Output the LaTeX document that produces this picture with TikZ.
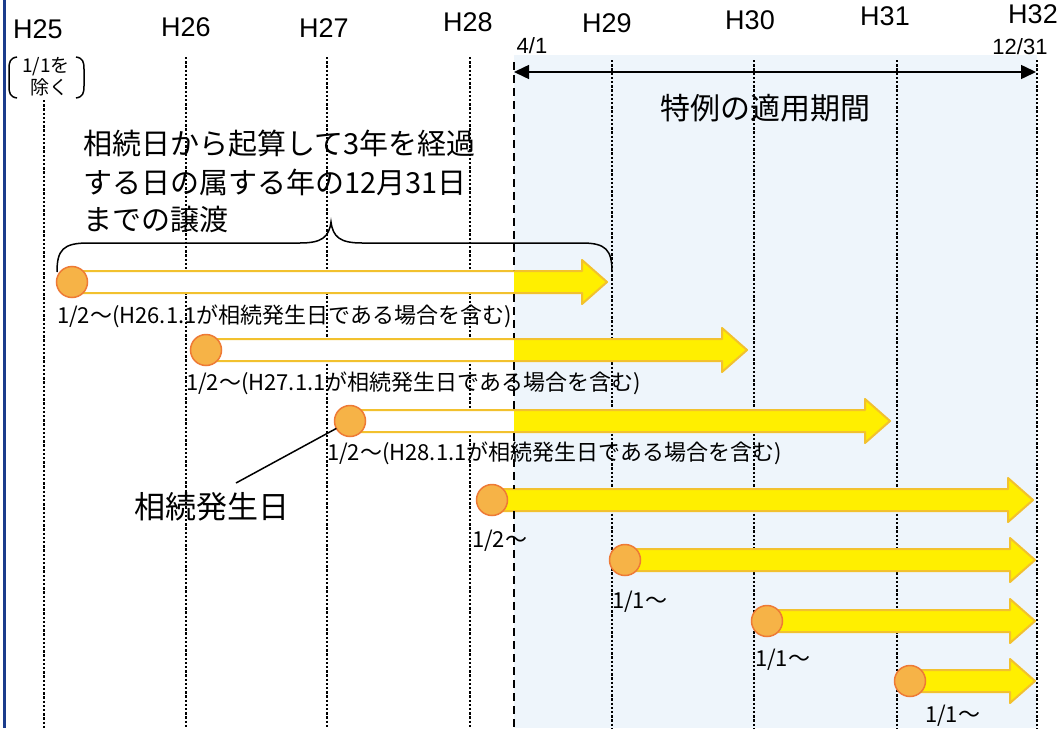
\documentclass[tikz,border=0pt]{standalone}
\usepackage{fontspec}
\setmainfont{Liberation Sans}
\newfontfamily\jp{Noto Sans CJK JP}
\usetikzlibrary{arrows.meta}
\definecolor{yfill}{HTML}{FFEF00}
\definecolor{yline}{HTML}{F2C12E}
\definecolor{cfill}{HTML}{F6B347}
\definecolor{cline}{HTML}{EE7A35}
\definecolor{bluebg}{HTML}{EEF5FB}
\definecolor{navy}{HTML}{1B3C8C}
\newcommand\yarr[4]{%
  \ifnum#4=1
    \fill[white] (#1,{#3-11}) -- ({#2-25},{#3-11}) -- ({#2-25},{#3-22}) -- (#2,#3) -- ({#2-25},{#3+22}) -- ({#2-25},{#3+11}) -- (#1,{#3+11}) -- cycle;
    \begin{scope}
      \clip (514,0) rectangle (1057,728);
      \fill[yfill] (#1,{#3-11}) -- ({#2-25},{#3-11}) -- ({#2-25},{#3-22}) -- (#2,#3) -- ({#2-25},{#3+22}) -- ({#2-25},{#3+11}) -- (#1,{#3+11}) -- cycle;
    \end{scope}
  \else
    \fill[yfill] (#1,{#3-11}) -- ({#2-25},{#3-11}) -- ({#2-25},{#3-22}) -- (#2,#3) -- ({#2-25},{#3+22}) -- ({#2-25},{#3+11}) -- (#1,{#3+11}) -- cycle;
  \fi
  \draw[yline, line width=2pt, line join=round] (#1,{#3-11}) -- ({#2-25},{#3-11}) -- ({#2-25},{#3-22}) -- (#2,#3) -- ({#2-25},{#3+22}) -- ({#2-25},{#3+11}) -- (#1,{#3+11}) -- cycle;
}
\begin{document}
\begin{tikzpicture}[x=1pt,y=-1pt,
  every node/.style={inner sep=0pt, outer sep=0pt},
  yearlab/.style={font=\fontsize{27}{32}\selectfont},
  yearline/.style={line width=2.6pt, dash pattern=on 2.4pt off 1.8pt},
  splitline/.style={line width=2.2pt, dash pattern=on 8pt off 5pt},
  dot/.style={circle, minimum size=31pt, fill=cfill, draw=cline, line width=1.5pt},
  arrlab/.style={anchor=west, font=\jp\fontsize{22}{26}\selectfont},
  bigtxt/.style={anchor=west, font=\jp\fontsize{29}{33}\selectfont},
  smalltxt/.style={font=\jp\fontsize{19}{22}\selectfont},
  datelab/.style={font=\fontsize{22}{26}\selectfont}]
\useasboundingbox (0,0) rectangle (1057,728);
\fill[white] (0,0) rectangle (1057,728);
\fill[bluebg] (514,55) rectangle (1037,728);
\draw[navy, line width=3pt] (4,0) -- (4,728);

% year lines
\foreach \x/\ys in {44/100,186/57,327/57,470/57,612/60,754/60,897/60,1037/60}
  \draw[yearline] (\x,\ys) -- (\x,728);

% year labels
\node[yearlab] (h25) at (38,29) {H25};
\node[yearlab] (h26) at (186,27) {H26};
\node[yearlab] (h27) at (324,28) {H27};
\node[yearlab] (h28) at (468,22) {H28};
\node[yearlab] (h29) at (607,23) {H29};
\node[yearlab] (h30) at (750,20) {H30};
\node[yearlab] (h31) at (885,16) {H31};
\node[yearlab] (h32) at (1033,14) {H32};

% (1/1を除く)
\node[smalltxt] (ex1) at (46,67) {1/1を};
\node[smalltxt] (ex2) at (49,87) {除く};
\draw[line width=1.5pt] (17,57) .. controls (10,58) and (9,62) .. (9,69) -- (9,86) .. controls (9,93) and (10,97) .. (17,98);
\draw[line width=1.5pt] (76,57) .. controls (83,58) and (84,62) .. (84,69) -- (84,86) .. controls (84,93) and (83,97) .. (76,98);

% period arrow
\node[datelab] (d41) at (532,46) {4/1};
\node[datelab] (d1231) at (1020,47) {12/31};
\coordinate (ps) at (514,72);
\coordinate (pe) at (1036,72);
\draw[line width=1.5pt, {Triangle[length=15pt,width=14pt]}-{Triangle[length=15pt,width=14pt]}] (ps) -- (pe);
\node[font=\jp\fontsize{30}{34}\selectfont] (period) at (765,108) {特例の適用期間};

% explanatory text
\node[bigtxt] (t1) at (83,144) {相続日から起算して3年を経過};
\node[bigtxt] (t2) at (83,182) {する日の属する年の12月31日};
\node[bigtxt] (t3) at (83,219) {までの譲渡};

% brace
\draw[line width=1.5pt] (57,272) .. controls (57,250) and (63,243) .. (88,243) -- (300,243)
  .. controls (322,243) and (329,237) .. (331,222)
  .. controls (333,237) and (340,243) .. (362,243) -- (582,243)
  .. controls (606,243) and (612,250) .. (612,272);

% arrows
\yarr{72}{607}{282}{1}
\yarr{206}{747}{350}{1}
\yarr{350}{890}{421}{1}
\yarr{492}{1033}{500}{0}
\yarr{625}{1035}{560}{0}
\yarr{767}{1035}{621}{0}
\yarr{910}{1035}{681}{0}

% dashed split line (4/1)
\draw[splitline] (514,62) -- (514,270);
\draw[splitline] (514,294) -- (514,338);
\draw[splitline] (514,362) -- (514,409);
\draw[splitline] (514,433) -- (514,489);
\draw[splitline] (514,511) -- (514,728);

% circles
\node[dot] (c1) at (72,282) {};
\node[dot] (c2) at (206,350) {};
\node[dot] (c3) at (350,421) {};
\node[dot] (c4) at (492,500) {};
\node[dot] (c5) at (625,560) {};
\node[dot] (c6) at (767,621) {};
\node[dot] (c7) at (910,681) {};

% labels
\node[arrlab] (l1) at (57,316) {1/2～(H26.1.1が相続発生日である場合を含む)};
\node[arrlab] (l2) at (186,383) {1/2～(H27.1.1が相続発生日である場合を含む)};
\node[arrlab] (l3) at (327,453) {1/2～(H28.1.1が相続発生日である場合を含む)};
\node[arrlab] (l4) at (472,541) {1/2～};
\node[arrlab] (l5) at (612,602) {1/1～};
\node[arrlab] (l6) at (755,660) {1/1～};
\node[arrlab] (l7) at (925,716) {1/1～};

% 相続発生日
\node[font=\jp\fontsize{31}{35}\selectfont] (hassei) at (212,507) {相続発生日};
\coordinate (lead) at (236,483);
\draw[line width=1.5pt] (lead) -- (c3);
\end{tikzpicture}
\end{document}
